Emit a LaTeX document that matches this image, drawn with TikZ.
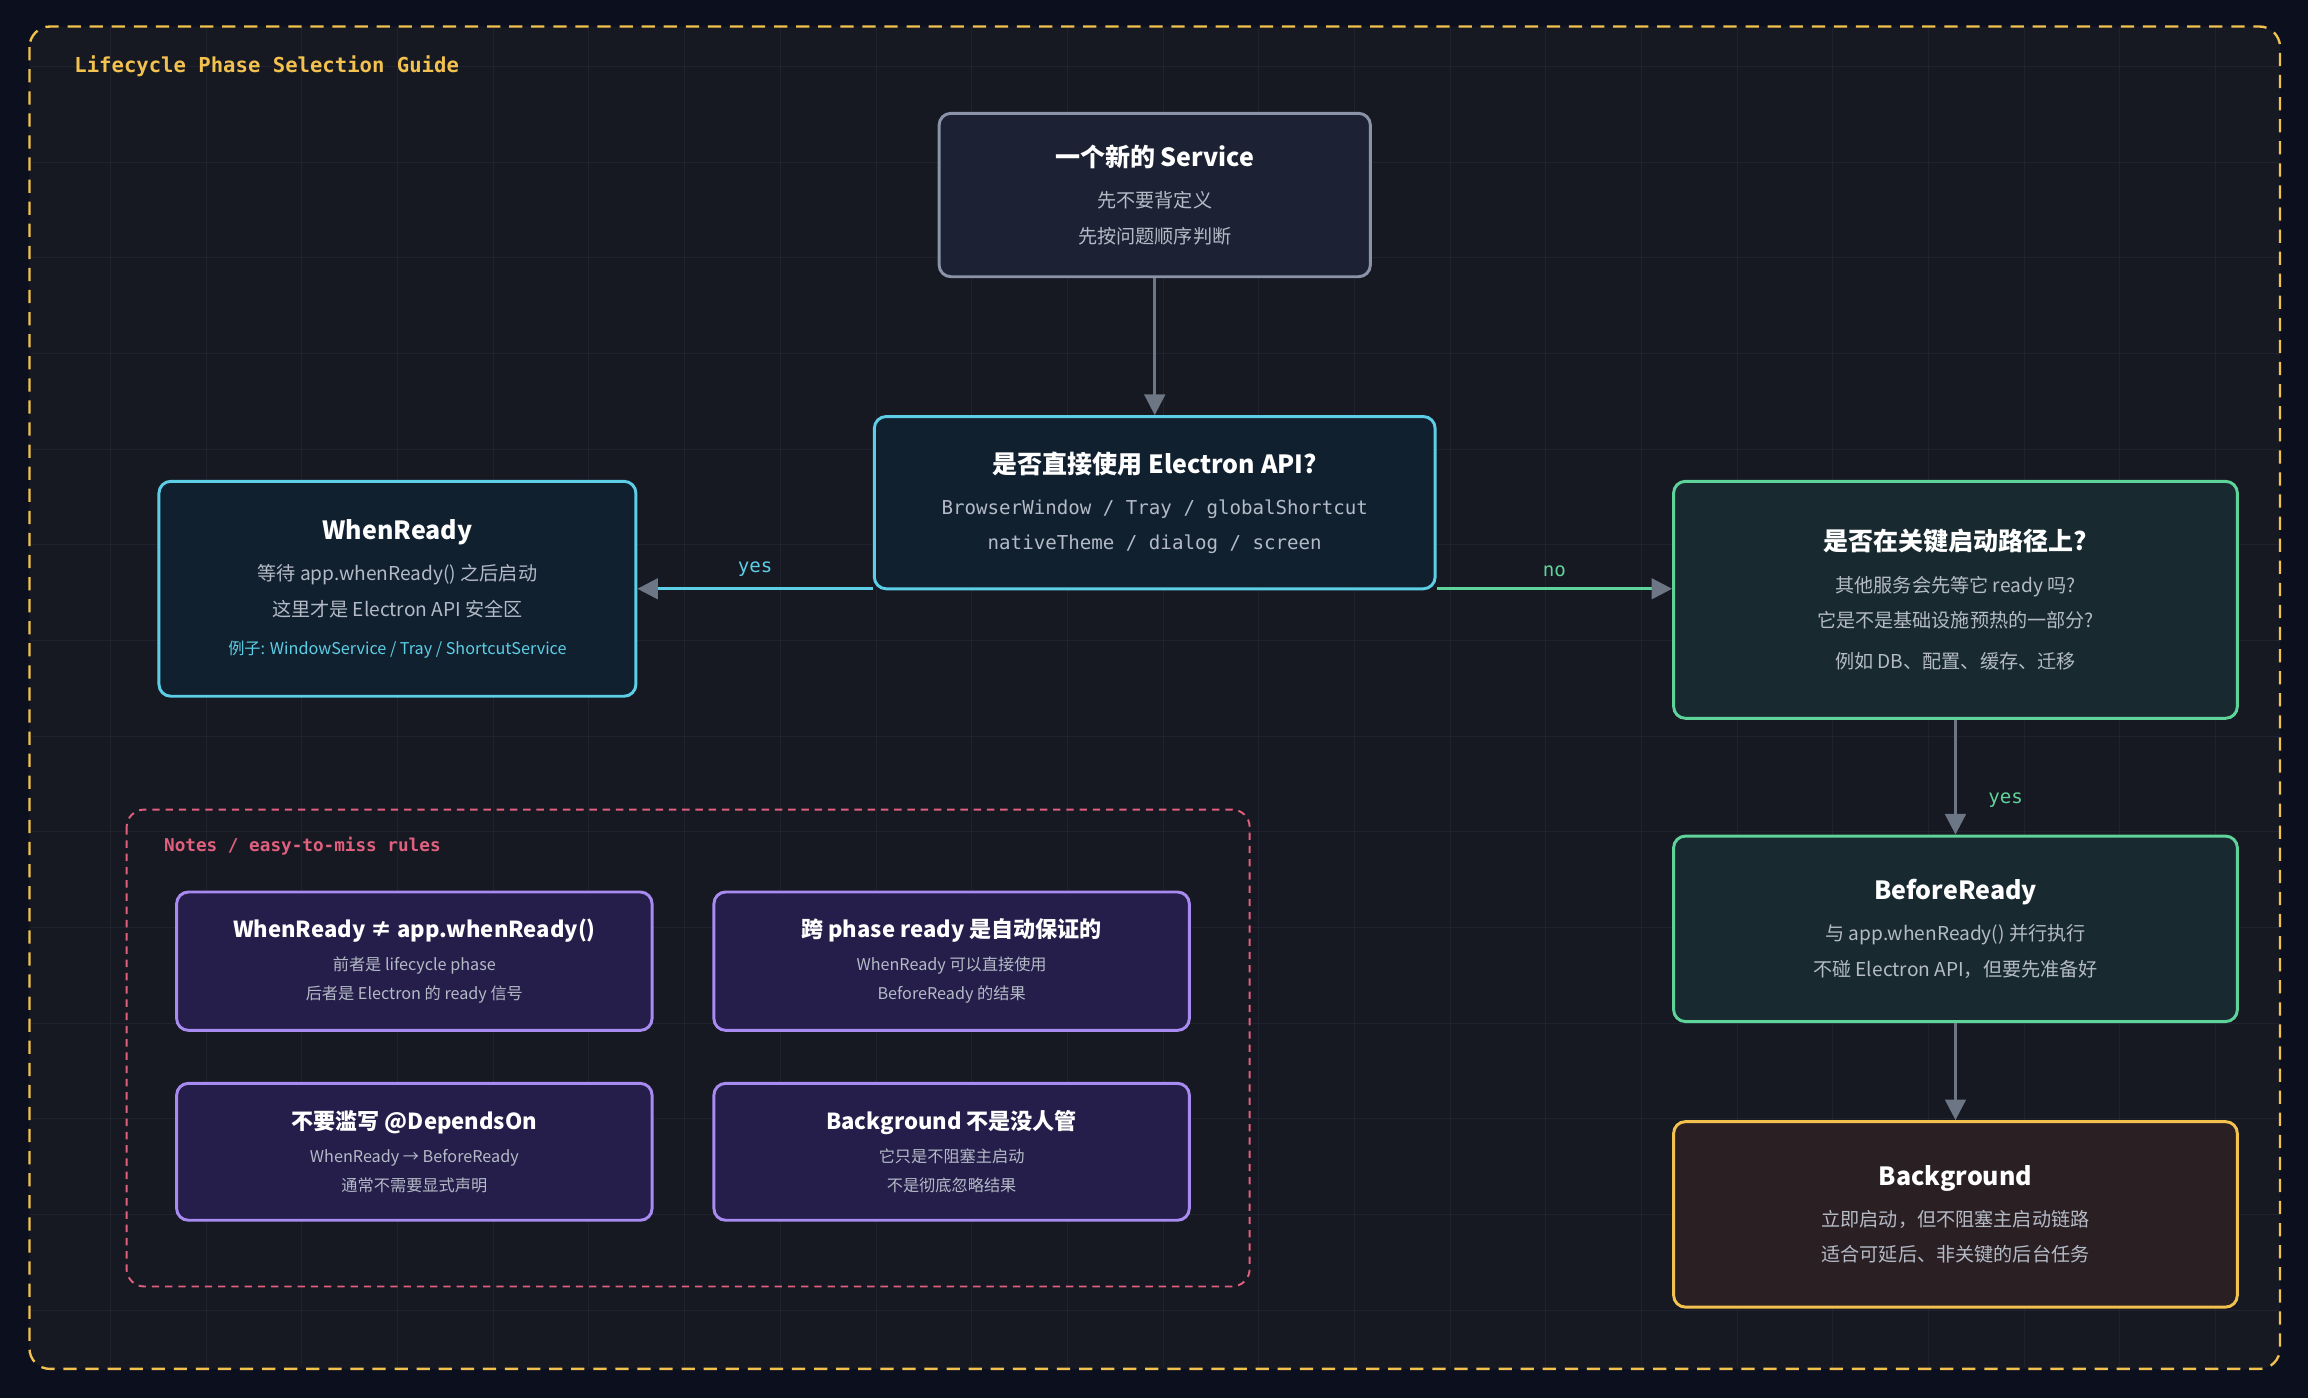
\documentclass[tikz,border=0pt]{standalone}
\usepackage{fontspec}
\setmainfont{Noto Sans CJK SC}
\newfontfamily\monof{DejaVu Sans Mono}
\usetikzlibrary{arrows.meta,calc}

\definecolor{pagebg}{HTML}{0B0F1E}
\definecolor{framebg}{HTML}{161822}
\definecolor{gridc}{HTML}{20232F}
\definecolor{goldc}{HTML}{F2C14E}
\definecolor{cyanc}{HTML}{5CCFE6}
\definecolor{greenc}{HTML}{5FD49A}
\definecolor{pinkc}{HTML}{E0607E}
\definecolor{purplec}{HTML}{A88BF0}
\definecolor{greyc}{HTML}{8A93A8}
\definecolor{arrowc}{HTML}{6C7684}
\definecolor{bodyc}{HTML}{B4BAC6}
\definecolor{startfill}{HTML}{1C2233}
\definecolor{cyanfill}{HTML}{10202F}
\definecolor{greenfill}{HTML}{182A30}
\definecolor{goldfill}{HTML}{2A2024}
\definecolor{notefill}{HTML}{251D4A}

\tikzset{
  box/.style={draw, line width=2pt, rounded corners=8pt, align=center, text=bodyc, font=\fontsize{13}{24}\selectfont},
  startbox/.style={box, draw=greyc, fill=startfill},
  askcyan/.style={box, draw=cyanc, fill=cyanfill},
  askgreen/.style={box, draw=greenc, fill=greenfill},
  notebox/.style={box, draw=purplec, fill=notefill, font=\fontsize{11}{20}\selectfont},
  flow/.style={line width=2pt, -{Triangle[length=14pt,width=14pt,color=arrowc]}},
  elabel/.style={font=\monof\fontsize{13}{15}\selectfont}
}

\begin{document}
\begin{tikzpicture}[x=1pt,y=-1pt]

% page and frame
\fill[pagebg] (0,0) rectangle (1568,950);
\useasboundingbox (0,0) rectangle (1568,950);
\fill[framebg, rounded corners=14pt] (20,18) rectangle (1549,930);
\foreach \gx in {75,140,...,1549} \draw[gridc] (\gx,19) -- (\gx,929);
\foreach \gy in {45,110,...,930} \draw[gridc] (21,\gy) -- (1548,\gy);
\draw[goldc, line width=1.6pt, dash pattern=on 9pt off 6pt, rounded corners=14pt] (20,18) rectangle (1549,930);
\node[anchor=west, text=goldc, font=\monof\bfseries\fontsize{14}{16}\selectfont] (title) at (47,45) {Lifecycle Phase Selection Guide};

% decision flow
\node[startbox, minimum width=293pt, minimum height=111pt] (svc) at (784.5,132.5)
  {{\fontsize{17}{20}\selectfont\bfseries\color{white}一个新的 Service}\\[4pt]先不要背定义\\先按问题顺序判断};
\node[askcyan, minimum width=381pt, minimum height=117pt] (useapi) at (784.5,341.5)
  {{\fontsize{17}{20}\selectfont\bfseries\color{white}是否直接使用 Electron API?}\\[4pt]{\monof BrowserWindow / Tray / globalShortcut}\\{\monof nativeTheme / dialog / screen}};
\node[askcyan, minimum width=324pt, minimum height=146pt] (whenready) at (270,400)
  {{\fontsize{17}{20}\selectfont\bfseries\color{white}WhenReady}\\[4pt]等待 app.whenReady() 之后启动\\这里才是 Electron API 安全区\\[2pt]{\fontsize{11}{14}\selectfont\color{cyanc}例子: WindowService / Tray / ShortcutService}};
\node[askgreen, minimum width=383pt, minimum height=161pt] (critical) at (1328.5,407.5)
  {{\fontsize{17}{20}\selectfont\bfseries\color{white}是否在关键启动路径上?}\\[4pt]其他服务会先等它 ready 吗?\\它是不是基础设施预热的一部分?\\[4pt]例如 DB、配置、缓存、迁移};
\node[askgreen, minimum width=383pt, minimum height=126pt] (beforeready) at (1328.5,631)
  {{\fontsize{17}{20}\selectfont\bfseries\color{white}BeforeReady}\\[4pt]与 app.whenReady() 并行执行\\不碰 Electron API，但要先准备好};
\node[box, draw=goldc, fill=goldfill, minimum width=383pt, minimum height=126pt] (background) at (1328.5,825)
  {{\fontsize{17}{20}\selectfont\bfseries\color{white}Background}\\[4pt]立即启动，但不阻塞主启动链路\\适合可延后、非关键的后台任务};

\draw[flow, arrowc] (svc) -- (useapi);
\draw[flow, cyanc] (useapi.west |- whenready.east) -- (whenready.east)
  node[elabel, text=cyanc, midway, above=4pt] {yes};
\draw[flow, greenc] (useapi.east |- whenready.east) -- (critical.west |- whenready.east)
  node[elabel, text=greenc, midway, above=4pt] {no};
\draw[flow, arrowc] (critical) -- (beforeready)
  node[elabel, text=greenc, pos=0.7, right=18pt] {yes};
\draw[flow, arrowc] (beforeready) -- (background);

% notes
\draw[pinkc, line width=1.3pt, dash pattern=on 5pt off 4pt, rounded corners=12pt] (86,550) rectangle (849,874);
\node[anchor=west, text=pinkc, font=\monof\bfseries\fontsize{12}{14}\selectfont] (notes) at (108,575) {Notes / easy-to-miss rules};
\node[notebox, minimum width=323pt, minimum height=94pt] (ruleA) at (281.5,653)
  {{\fontsize{15}{18}\selectfont\bfseries\color{white}WhenReady ≠ app.whenReady()}\\[2pt]前者是 lifecycle phase\\后者是 Electron 的 ready 信号};
\node[notebox, minimum width=323pt, minimum height=94pt] (ruleB) at (646.5,653)
  {{\fontsize{15}{18}\selectfont\bfseries\color{white}跨 phase ready 是自动保证的}\\[2pt]WhenReady 可以直接使用\\BeforeReady 的结果};
\node[notebox, minimum width=323pt, minimum height=93pt] (ruleC) at (281.5,782.5)
  {{\fontsize{15}{18}\selectfont\bfseries\color{white}不要滥写 @DependsOn}\\[2pt]WhenReady → BeforeReady\\通常不需要显式声明};
\node[notebox, minimum width=323pt, minimum height=93pt] (ruleD) at (646.5,782.5)
  {{\fontsize{15}{18}\selectfont\bfseries\color{white}Background 不是没人管}\\[2pt]它只是不阻塞主启动\\不是彻底忽略结果};

\end{tikzpicture}
\end{document}
